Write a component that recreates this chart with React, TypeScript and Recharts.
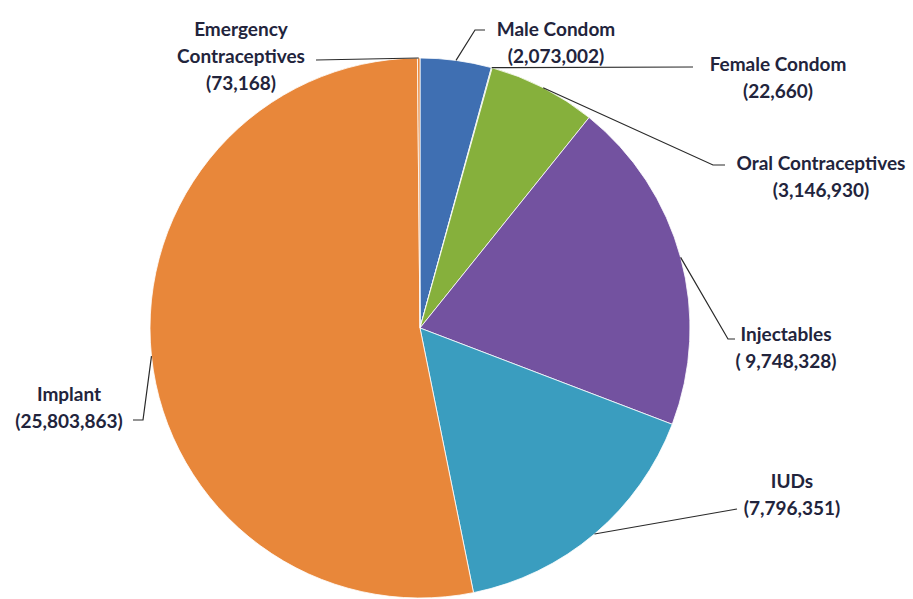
import React from "react";
import { PieChart, Pie, Cell } from "recharts";

const categories = [
  "Male Condom",
  "Female Condom",
  "Oral Contraceptives",
  "Injectables",
  "IUDs",
  "Implant",
  "Emergency Contraceptives",
];
const values = [2073002, 22660, 3146930, 9748328, 7796351, 25803863, 73168];
const valueLabels = ["(2,073,002)", "(22,660)", "(3,146,930)", "( 9,748,328)", "(7,796,351)", "(25,803,863)", "(73,168)"];
const nameLines = [
  ["Male Condom"],
  ["Female Condom"],
  ["Oral Contraceptives"],
  ["Injectables"],
  ["IUDs"],
  ["Implant"],
  ["Emergency", "Contraceptives"],
];
const colors = ["#3F6FB2", "#7FA346", "#86B03C", "#7352A0", "#3A9DBF", "#E8873A", "#E8873A"];

// label layout: leader line bend points and text centre (chart pixels)
const leaderPoints: number[][][] = [
  [[475, 30], [485, 30]],
  [[693, 67]],
  [[713, 165], [725, 165]],
  [[728, 339], [735, 339]],
  [[737, 509]],
  [[143, 420], [133, 420]],
  [[316, 60]],
];
const textPos: number[][] = [
  [556, 28],
  [778, 63],
  [821, 162],
  [786, 333],
  [792, 480],
  [69, 393],
  [241, 28],
];
const lineGap = 27;

const data = categories.map((c, i) => ({ name: c, value: values[i] }));

const RAD = Math.PI / 180;

const renderLabel = (props: any) => {
  const { cx, cy, midAngle, outerRadius, index } = props;
  const sx = cx + outerRadius * Math.cos(-midAngle * RAD);
  const sy = cy + outerRadius * Math.sin(-midAngle * RAD);
  const pts = [[sx, sy], ...leaderPoints[index]];
  const d = pts.map((p, i) => `${i === 0 ? "M" : "L"}${p[0]},${p[1]}`).join(" ");
  const lines = [...nameLines[index], valueLabels[index]];
  const [tx, ty] = textPos[index];
  return (
    <g key={`lbl-${index}`}>
      <path d={d} stroke="#2a2a2a" strokeWidth={1.2} fill="none" />
      {lines.map((t, i) => (
        <text
          key={i}
          x={tx}
          y={ty + i * lineGap}
          textAnchor="middle"
          dominantBaseline="central"
          fontFamily="Lato, 'Open Sans', sans-serif"
          fontWeight={700}
          fontSize={19}
          fill="#22243c"
        >
          {t}
        </text>
      ))}
    </g>
  );
};

export default function App() {
  return (
    <div style={{ position: "absolute", left: 0, top: 0, width: 913, height: 599, background: "#fff" }}>
      <PieChart width={913} height={599} margin={{ top: 0, right: 0, bottom: 0, left: 0 }}>
        <Pie
          data={data}
          dataKey="value"
          nameKey="name"
          cx={420}
          cy={328}
          outerRadius={270}
          startAngle={90}
          endAngle={-270}
          stroke="#ffffff"
          strokeWidth={0.8}
          label={renderLabel}
          labelLine={false}
          isAnimationActive={false}
        >
          {data.map((d, i) => (
            <Cell key={d.name} fill={colors[i]} />
          ))}
        </Pie>
      </PieChart>
    </div>
  );
}
